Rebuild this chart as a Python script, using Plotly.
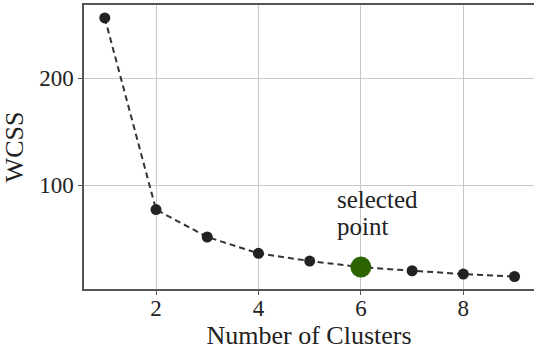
import plotly.graph_objects as go

clusters = [1, 2, 3, 4, 5, 6, 7, 8, 9]
wcss = [256.5, 77.0, 51.3, 36.0, 28.8, 23.1, 19.7, 16.6, 14.3]
selected_k = 6
selected_wcss = 23.1
x_ticks = [2, 4, 6, 8]
y_ticks = [100, 200]
label_lines = ["selected", "point"]

FONT = "Liberation Serif"
TICK_FONT = dict(family=FONT, size=23, color="#222222")

fig = go.Figure()
fig.add_trace(go.Scatter(
    x=clusters, y=wcss, mode="lines+markers",
    line=dict(color="#333333", width=2, dash="6px,4px"),
    marker=dict(color="#222222", size=11),
    showlegend=False,
))
fig.add_trace(go.Scatter(
    x=[selected_k], y=[selected_wcss], mode="markers",
    marker=dict(color="#2e6400", size=21),
    showlegend=False,
))
for txt, yv in zip(label_lines, [86, 61]):
    fig.add_annotation(
        x=5.5, y=yv, xref="x", yref="y", text=txt,
        showarrow=False, xanchor="left", yanchor="middle", align="left",
        font=dict(family=FONT, size=25, color="#222222"),
    )
fig.update_layout(
    width=534, height=352,
    margin=dict(l=84, r=0, t=5, b=63, autoexpand=False),
    plot_bgcolor="white", paper_bgcolor="white",
    font=dict(family=FONT, size=22, color="#222222"),
)
fig.update_xaxes(
    range=[0.594, 9.38], tickvals=x_ticks, ticktext=[str(v) for v in x_ticks],
    tickfont=TICK_FONT,
    showgrid=True, gridcolor="#c8c8c8", gridwidth=1,
    showline=True, linecolor="#555555", linewidth=1.5, mirror=True,
    ticks="outside", ticklen=4, tickcolor="#555555",
    ticklabelstandoff=-6,
    zeroline=False, automargin=False,
    title=dict(text="Number of Clusters", standoff=0,
               font=dict(family=FONT, size=26, color="#222222")),
)
fig.update_yaxes(
    range=[2.6, 268.6], tickvals=y_ticks, ticktext=[str(v) for v in y_ticks],
    tickfont=TICK_FONT,
    showgrid=True, gridcolor="#c8c8c8", gridwidth=1,
    showline=True, linecolor="#555555", linewidth=1.5, mirror=False,
    ticks="outside", ticklen=4, tickcolor="#555555",
    zeroline=False, automargin=False,
    title=dict(text="WCSS", standoff=8,
               font=dict(family=FONT, size=26, color="#222222")),
)
fig.write_html("out.html", config={"displayModeBar": False},
               post_script="document.body.style.margin='0';")
